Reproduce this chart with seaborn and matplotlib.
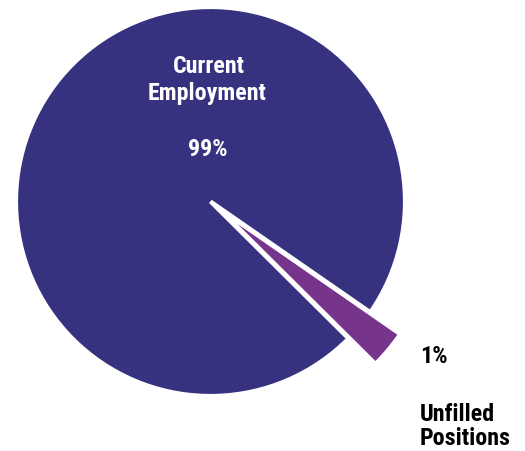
import matplotlib
matplotlib.use("Agg")
import matplotlib.pyplot as plt
import seaborn as sns

categories = ["Unfilled Positions", "Current Employment"]
values = [2.8, 97.2]
pct_labels = ["1%", "99%"]
colors = ["#76358A", "#36327F"]

sns.set_theme(style="white")
plt.rcParams['font.family'] = ['Roboto Condensed', 'DejaVu Sans']

fig = plt.figure(figsize=(5.25, 4.51), dpi=100)
ax = fig.add_axes([0, 0, 1, 1])
wedges, _ = ax.pie(values, colors=colors, startangle=-44.8, counterclock=True,
                   explode=[0.18, 0], radius=1.0,
                   wedgeprops=dict(edgecolor="white", linewidth=3))
wedges[0].set_linewidth(0)

R = 194.5
cx, cy = 210.5, 201.5
ax.set_xlim(-cx / R, (525 - cx) / R)
ax.set_ylim(-(451 - cy) / R, cy / R)
ax.set_aspect("auto")
ax.axis("off")

def px(x, y):
    return ((x - cx) / R, (cy - y) / R)

tkw = dict(fontsize=17.3, fontweight="bold", va="baseline")
ax.text(*px(208.5, 73), "Current", color="white", ha="center", **tkw)
ax.text(*px(207.5, 100), "Employment", color="white", ha="center", **tkw)
ax.text(*px(208, 156), pct_labels[1], color="white", ha="center", **tkw)
ax.text(*px(420, 363), pct_labels[0], color="black", ha="left", **tkw)
ax.text(*px(420, 421), "Unfilled", color="black", ha="left", **tkw)
ax.text(*px(420, 445), "Positions", color="black", ha="left", **tkw)

fig.savefig("out.png", dpi=100)
